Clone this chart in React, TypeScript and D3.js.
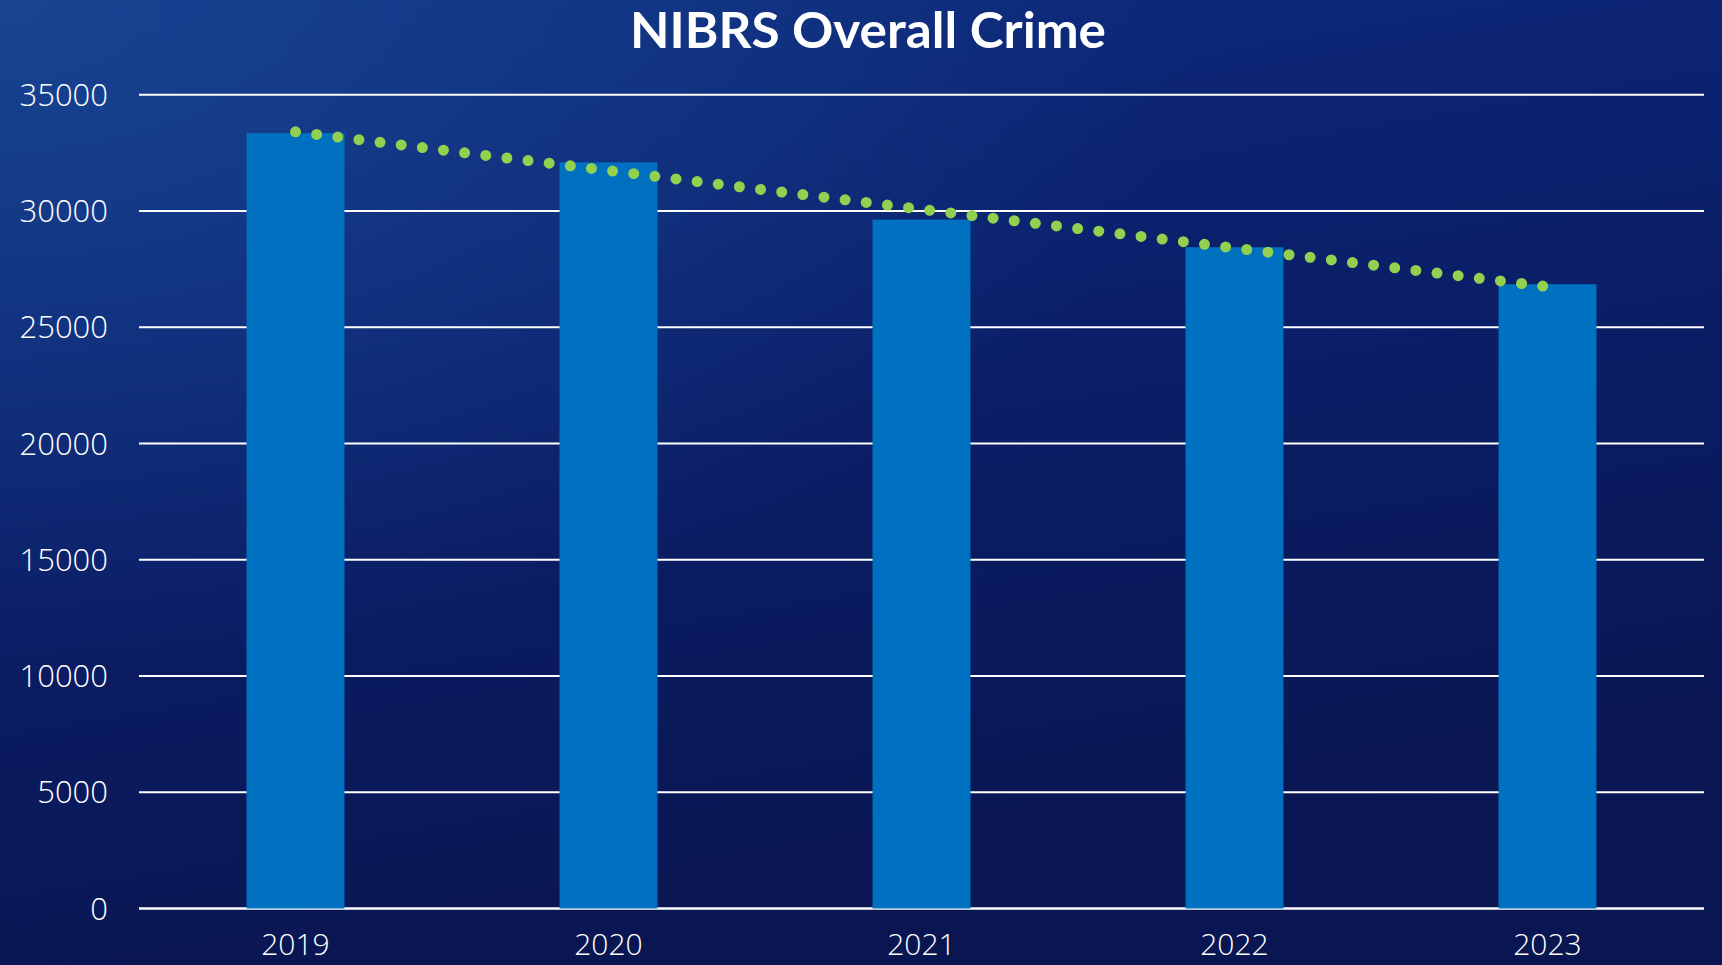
import React, { useEffect, useRef } from 'react';
import * as d3 from 'd3';

const years = ['2019', '2020', '2021', '2022', '2023'];
const crimeCounts = [33350, 32090, 29630, 28440, 26850];
const yTicks = [0, 5000, 10000, 15000, 20000, 25000, 30000, 35000];

const W = 1722;
const H = 965;
const margin = { top: 94.7, right: 18, bottom: 56.5, left: 139 };

const App: React.FC = () => {
  const svgRef = useRef<SVGSVGElement>(null);

  useEffect(() => {
    const svg = d3.select(svgRef.current);
    svg.selectAll('*').remove();

    // background
    const defs = svg.append('defs');
    const lin = defs.append('linearGradient')
      .attr('id', 'bg').attr('x1', 0).attr('y1', 0).attr('x2', 0.3).attr('y2', 1);
    lin.append('stop').attr('offset', '0%').attr('stop-color', '#0d2c80');
    lin.append('stop').attr('offset', '55%').attr('stop-color', '#0b1d66');
    lin.append('stop').attr('offset', '100%').attr('stop-color', '#0a1651');
    const rad = defs.append('radialGradient')
      .attr('id', 'glow').attr('cx', 0).attr('cy', 0).attr('r', 0.7);
    rad.append('stop').attr('offset', '0%').attr('stop-color', '#1a4a96').attr('stop-opacity', 0.8);
    rad.append('stop').attr('offset', '100%').attr('stop-color', '#1a4a96').attr('stop-opacity', 0);

    svg.append('rect').attr('width', W).attr('height', H).attr('fill', 'url(#bg)');
    svg.append('rect').attr('width', W).attr('height', H).attr('fill', 'url(#glow)');

    const innerW = W - margin.left - margin.right;
    const innerH = H - margin.top - margin.bottom;

    const x = d3.scaleBand<string>()
      .domain(years)
      .range([0, innerW])
      .paddingInner(0.687)
      .paddingOuter(0.3435);

    const y = d3.scaleLinear().domain([0, 35000]).range([innerH, 0]);

    const g = svg.append('g').attr('transform', `translate(${margin.left},${margin.top})`);

    // gridlines
    g.selectAll('.grid')
      .data(yTicks)
      .enter().append('line')
      .attr('x1', 0)
      .attr('x2', innerW)
      .attr('y1', d => y(d))
      .attr('y2', d => y(d))
      .attr('stroke', '#ffffff')
      .attr('stroke-width', d => (d === 0 ? 2.5 : 2));

    // y labels
    g.selectAll('.ylab')
      .data(yTicks)
      .enter().append('text')
      .attr('x', -31)
      .attr('y', d => y(d))
      .attr('dy', '0.36em')
      .attr('text-anchor', 'end')
      .attr('fill', '#ffffff')
      .attr('font-family', '"Open Sans", sans-serif')
      .attr('font-weight', 300)
      .attr('font-size', 31)
      .text(d => String(d));

    // bars
    g.selectAll('.bar')
      .data(crimeCounts)
      .enter().append('rect')
      .attr('x', (_d, i) => x(years[i]) as number)
      .attr('y', d => y(d))
      .attr('width', x.bandwidth())
      .attr('height', d => innerH - y(d))
      .attr('fill', '#0070c0');

    // x labels
    g.selectAll('.xlab')
      .data(years)
      .enter().append('text')
      .attr('x', d => (x(d) as number) + x.bandwidth() / 2)
      .attr('y', innerH + 47)
      .attr('text-anchor', 'middle')
      .attr('fill', '#ffffff')
      .attr('font-family', '"Open Sans", sans-serif')
      .attr('font-weight', 300)
      .attr('font-size', 30)
      .text(d => d);

    // linear trendline
    const n = crimeCounts.length;
    const meanX = d3.mean(crimeCounts, (_d, i) => i) as number;
    const meanY = d3.mean(crimeCounts) as number;
    const slope = d3.sum(crimeCounts, (d, i) => (i - meanX) * (d - meanY)) /
      d3.sum(crimeCounts, (_d, i) => (i - meanX) ** 2);
    const trend = [0, n - 1].map(i => ({ i, v: meanY + slope * (i - meanX) }));

    const line = d3.line<{ i: number; v: number }>()
      .x(d => (x(years[d.i]) as number) + x.bandwidth() / 2)
      .y(d => y(d.v));

    g.append('path')
      .attr('d', line(trend))
      .attr('fill', 'none')
      .attr('stroke', '#92d050')
      .attr('stroke-width', 11)
      .attr('stroke-linecap', 'round')
      .attr('stroke-dasharray', '0 21.3');

    // title
    svg.append('text')
      .attr('x', 868)
      .attr('y', 48)
      .attr('text-anchor', 'middle')
      .attr('fill', '#ffffff')
      .attr('font-family', 'Lato, "Open Sans", sans-serif')
      .attr('font-weight', 700)
      .attr('font-size', 49)
      .attr('textLength', 476)
      .attr('lengthAdjust', 'spacingAndGlyphs')
      .text('NIBRS Overall Crime');
  }, []);

  return (
    <div style={{ position: 'fixed', left: 0, top: 0, width: W, height: H }}>
      <svg ref={svgRef} width={W} height={H} style={{ display: 'block' }}></svg>
    </div>
  );
};

export default App;
